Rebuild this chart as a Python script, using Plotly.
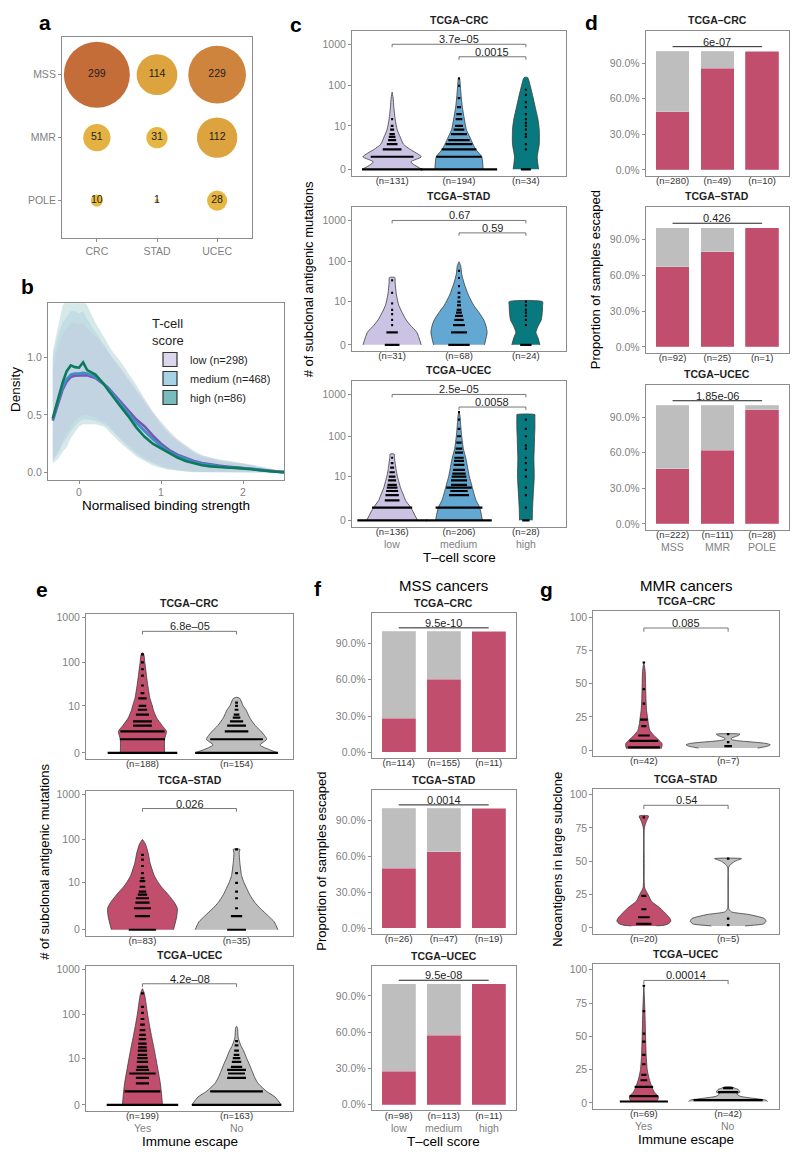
import math
import plotly.graph_objects as go

W, H = 800, 1159
FONT = "Liberation Sans, Arial, Helvetica, sans-serif"
GRAY_TXT = "#7f7f7f"
BOX_COL = "#8c8c8c"
INK = "#1e1e1e"

# ======================= DATA =======================
# ---- panel a : sample counts per cancer / subtype
a_cancers = ["CRC", "STAD", "UCEC"]
a_subtypes = ["POLE", "MMR", "MSS"]          # bottom -> top
a_mss = [299, 114, 229]
a_mmr = [51, 31, 112]
a_pole = [10, 1, 28]

# ---- panel b : density of normalised binding strength
b_x = [-0.32, -0.25, -0.2, -0.15, -0.1, -0.05, 0.0, 0.05, 0.1, 0.2, 0.3, 0.35, 0.4, 0.5, 0.6, 0.7,
       0.8, 0.9, 1.0, 1.1, 1.2, 1.3, 1.4, 1.5, 1.6, 1.7, 1.8, 1.9, 2.0, 2.1, 2.2, 2.3, 2.4, 2.5]
b_low = [0.45, 0.62, 0.72, 0.79, 0.83, 0.84, 0.84, 0.845, 0.845, 0.82, 0.77, 0.74, 0.70, 0.62, 0.54, 0.46,
         0.40, 0.32, 0.25, 0.195, 0.155, 0.125, 0.10, 0.083, 0.07, 0.06, 0.052, 0.046, 0.042, 0.036, 0.026, 0.016, 0.008, 0.003]
b_med = [0.46, 0.64, 0.74, 0.81, 0.85, 0.86, 0.86, 0.865, 0.86, 0.83, 0.77, 0.735, 0.69, 0.60, 0.51, 0.43,
         0.36, 0.29, 0.23, 0.18, 0.145, 0.115, 0.092, 0.075, 0.063, 0.054, 0.047, 0.043, 0.039, 0.032, 0.023, 0.014, 0.007, 0.003]
b_high = [0.47, 0.65, 0.78, 0.88, 0.93, 0.915, 0.91, 0.957, 0.89, 0.85, 0.77, 0.72, 0.67, 0.58, 0.49, 0.39,
          0.31, 0.25, 0.21, 0.17, 0.13, 0.10, 0.08, 0.063, 0.053, 0.046, 0.043, 0.04, 0.037, 0.029, 0.02, 0.012, 0.007, 0.003]
b_low_hi = [0.9, 1.1, 1.2, 1.25, 1.3, 1.3, 1.28, 1.3, 1.25, 1.18, 1.1, 1.05, 1.0, 0.92, 0.82, 0.72,
            0.62, 0.52, 0.43, 0.35, 0.28, 0.23, 0.18, 0.15, 0.13, 0.11, 0.1, 0.09, 0.08, 0.065, 0.05, 0.035, 0.02, 0.008]
b_low_lo = [0.12, 0.2, 0.28, 0.35, 0.4, 0.45, 0.48, 0.5, 0.5, 0.48, 0.44, 0.42, 0.38, 0.3, 0.24, 0.18,
            0.13, 0.09, 0.06, 0.04, 0.025, 0.015, 0.01, 0.005, 0.003, 0.002, 0, 0, 0, 0, 0, 0, 0, 0]
b_med_hi = [1.0, 1.2, 1.3, 1.35, 1.4, 1.4, 1.38, 1.4, 1.33, 1.22, 1.12, 1.06, 1.0, 0.9, 0.8, 0.7,
            0.6, 0.5, 0.41, 0.33, 0.27, 0.22, 0.17, 0.14, 0.12, 0.1, 0.09, 0.085, 0.075, 0.06, 0.045, 0.03, 0.017, 0.007]
b_med_lo = [0.1, 0.17, 0.25, 0.3, 0.36, 0.4, 0.44, 0.46, 0.46, 0.45, 0.42, 0.4, 0.36, 0.29, 0.22, 0.16,
            0.11, 0.08, 0.05, 0.03, 0.02, 0.01, 0.005, 0, 0, 0, 0, 0, 0, 0, 0, 0, 0, 0]
b_high_hi = [1.05, 1.3, 1.45, 1.5, 1.5, 1.5, 1.5, 1.5, 1.45, 1.3, 1.18, 1.12, 1.06, 0.97, 0.87, 0.76,
             0.64, 0.53, 0.44, 0.36, 0.29, 0.24, 0.19, 0.15, 0.13, 0.115, 0.105, 0.095, 0.085, 0.07, 0.055, 0.04, 0.025, 0.01]
b_high_lo = [0.08, 0.12, 0.18, 0.22, 0.3, 0.35, 0.4, 0.42, 0.42, 0.42, 0.4, 0.37, 0.33, 0.26, 0.2, 0.14,
             0.1, 0.06, 0.04, 0.025, 0.015, 0.008, 0.003, 0, 0, 0, 0, 0, 0, 0, 0, 0, 0, 0]
b_legend = ["low (n=298)", "medium (n=468)", "high (n=86)"]

# ---- panel c : subclonal antigenic mutations by T-cell score
c_cancers = ["CRC", "STAD", "UCEC"]
c_groups = ["low", "medium", "high"]
c_n = {"CRC": [131, 194, 34], "STAD": [31, 68, 24], "UCEC": [136, 206, 28]}
c_p = {"CRC": ["3.7e–05", "0.0015"], "STAD": ["0.67", "0.59"], "UCEC": ["2.5e–05", "0.0058"]}
# violin outlines: (levels, half-widths)
c_viol = {
    "CRC": [([0, 0.5, 1, 2, 3, 5, 8, 15, 30, 50, 70],
             [0.445, 0.28, 0.436, 0.27, 0.17, 0.12, 0.075, 0.045, 0.025, 0.015, 0.0]),
            ([0, 1, 2, 3, 5, 8, 15, 30, 50, 100, 150, 160],
             [0.36, 0.34, 0.25, 0.21, 0.16, 0.11, 0.08, 0.05, 0.035, 0.02, 0.01, 0.0]),
            ([0, 1, 3, 8, 15, 30, 50, 100, 150, 160],
             [0.19, 0.17, 0.2, 0.2, 0.18, 0.14, 0.11, 0.065, 0.035, 0.02])],
    "STAD": [([0, 1, 2, 3, 5, 8, 15, 30, 41],
              [0.435, 0.37, 0.27, 0.21, 0.15, 0.1, 0.065, 0.045, 0.04]),
             ([0, 1, 2, 3, 5, 8, 15, 30, 50, 80, 100],
              [0.38, 0.42, 0.4, 0.37, 0.3, 0.22, 0.14, 0.075, 0.04, 0.025, 0.0]),
             ([0, 0.5, 1, 2, 3, 5, 8, 10],
              [0.21, 0.18, 0.15, 0.19, 0.23, 0.245, 0.25, 0.25])],
    "UCEC": [([0, 1, 2, 3, 5, 8, 10, 15, 30, 37],
              [0.38, 0.28, 0.2, 0.17, 0.125, 0.095, 0.08, 0.06, 0.035, 0.03]),
             ([0, 1, 2, 3, 5, 8, 10, 15, 30, 50, 100, 150, 300, 400],
              [0.35, 0.31, 0.255, 0.23, 0.2, 0.17, 0.155, 0.135, 0.1, 0.065, 0.04, 0.03, 0.015, 0.0]),
             ([0, 1, 3, 10, 30, 50, 100, 150, 300, 330],
              [0.095, 0.1, 0.11, 0.125, 0.12, 0.125, 0.13, 0.135, 0.135, 0.135])],
}
# dot stacks: (values, half-widths)
c_dots = {
    "CRC": [([0, 1, 2, 3, 4, 5, 6, 8, 10, 15],
             [0.45, 0.32, 0.14, 0.08, 0.06, 0.05, 0.04, 0.03, 0.02, 0.015]),
            ([0, 1, 2, 3, 4, 6, 8, 10, 15, 20, 30, 50, 100, 150],
             [0.57, 0.34, 0.26, 0.2, 0.16, 0.12, 0.08, 0.06, 0.05, 0.04, 0.03, 0.02, 0.015, 0.015]),
            ([0, 2, 3, 5, 6, 8, 10, 12, 15, 20, 30, 40, 60, 80],
             [0.075, 0.015, 0.015, 0.015, 0.015, 0.015, 0.015, 0.015, 0.015, 0.015, 0.015, 0.015, 0.015, 0.015])],
    "STAD": [([0, 1, 2, 3, 4.5, 6, 9, 17, 35],
              [0.11, 0.085, 0.015, 0.015, 0.015, 0.015, 0.015, 0.015, 0.015]),
             ([0, 1, 2, 3, 4, 5, 6, 8, 10, 13, 17, 25, 40, 60],
              [0.16, 0.12, 0.09, 0.07, 0.06, 0.045, 0.035, 0.03, 0.025, 0.02, 0.02, 0.015, 0.015, 0.015]),
             ([0, 2, 3, 4, 5, 6, 8, 10],
              [0.085, 0.015, 0.015, 0.015, 0.015, 0.015, 0.015, 0.015])],
    "UCEC": [([0, 1, 2, 3, 4, 5, 6, 8, 10, 13, 17, 22, 30],
              [0.52, 0.3, 0.11, 0.1, 0.09, 0.08, 0.07, 0.06, 0.05, 0.04, 0.03, 0.02, 0.015]),
             ([0, 1, 3, 4, 5, 6, 8, 10, 12, 15, 20, 25, 30, 40, 50, 70, 100, 150, 250, 380],
              [0.49, 0.35, 0.15, 0.13, 0.19, 0.12, 0.12, 0.11, 0.1, 0.09, 0.08, 0.075, 0.07, 0.06, 0.05, 0.04, 0.03, 0.02, 0.015, 0.015]),
             ([0, 1, 3, 5, 10, 15, 22, 30, 50, 60, 100, 150, 250],
              [0.055, 0.015, 0.015, 0.015, 0.015, 0.015, 0.015, 0.015, 0.015, 0.015, 0.015, 0.015, 0.015])],
}

# ---- panel d : proportion escaped by subtype
d_subtypes = ["MSS", "MMR", "POLE"]
d_n = {"CRC": [280, 49, 10], "STAD": [92, 25, 1], "UCEC": [222, 111, 28]}
d_escaped = {"CRC": [0.489, 0.857, 1.0], "STAD": [0.674, 0.80, 1.0], "UCEC": [0.464, 0.622, 0.964]}
d_p = {"CRC": "6e-07", "STAD": "0.426", "UCEC": "1.85e-06"}

# ---- panel e : subclonal antigenic mutations by immune escape
e_groups = ["Yes", "No"]
e_n = {"CRC": [188, 154], "STAD": [83, 35], "UCEC": [199, 163]}
e_p = {"CRC": "6.8e–05", "STAD": "0.026", "UCEC": "4.2e–08"}
e_viol = {
    "CRC": [([0, 1, 2, 3, 5, 8, 10, 15, 30, 50, 100, 150, 165],
             [0.235, 0.235, 0.255, 0.21, 0.15, 0.115, 0.105, 0.08, 0.057, 0.043, 0.025, 0.014, 0.0]),
            ([0, 0.5, 1, 2, 3, 5, 8, 10, 15, 16],
             [0.44, 0.25, 0.32, 0.26, 0.2, 0.14, 0.1, 0.07, 0.035, 0.0])],
    "STAD": [([0, 1, 2, 3, 5, 8, 10, 15, 30, 50, 80, 100],
              [0.33, 0.365, 0.37, 0.34, 0.275, 0.2, 0.17, 0.125, 0.08, 0.06, 0.03, 0.0]),
             ([0, 0.5, 1, 2, 3, 5, 8, 10, 15, 30, 50, 60],
              [0.44, 0.4, 0.34, 0.25, 0.195, 0.14, 0.1, 0.08, 0.053, 0.035, 0.028, 0.035])],
    "UCEC": [([0, 1, 2, 3, 5, 8, 10, 15, 30, 50, 100, 150, 300, 380],
              [0.213, 0.2, 0.19, 0.18, 0.165, 0.15, 0.142, 0.128, 0.1, 0.08, 0.055, 0.043, 0.02, 0.0]),
             ([0, 0.5, 1, 2, 3, 5, 8, 10, 15, 20, 30, 50, 55],
              [0.475, 0.41, 0.32, 0.23, 0.195, 0.16, 0.125, 0.106, 0.075, 0.045, 0.018, 0.01, 0.0])],
}
e_dots = {
    "CRC": [([0, 1, 2, 3, 4, 6, 8, 10, 15, 20, 30, 50, 70, 100, 150],
             [0.37, 0.24, 0.235, 0.1, 0.1, 0.07, 0.05, 0.04, 0.045, 0.02, 0.015, 0.015, 0.015, 0.015, 0.015]),
            ([0, 1, 2, 3, 4, 5, 6, 8, 10, 12],
             [0.44, 0.28, 0.125, 0.1, 0.07, 0.04, 0.03, 0.02, 0.015, 0.015])],
    "STAD": [([0, 1, 2, 3, 4, 5, 6, 8, 11, 13, 17, 25, 35, 45],
              [0.145, 0.08, 0.09, 0.075, 0.07, 0.05, 0.04, 0.03, 0.03, 0.02, 0.015, 0.015, 0.015, 0.015]),
             ([0, 1, 2, 4, 6, 10, 17, 60],
              [0.1, 0.06, 0.015, 0.015, 0.015, 0.015, 0.015, 0.015])],
    "UCEC": [([0, 1, 2, 3, 4, 5, 6, 8, 10, 12, 15, 18, 22, 28, 35, 45, 60, 80, 110, 150, 300],
              [0.38, 0.19, 0.07, 0.07, 0.14, 0.07, 0.06, 0.06, 0.055, 0.05, 0.05, 0.045, 0.045, 0.04, 0.035, 0.03, 0.025, 0.02, 0.015, 0.015, 0.015]),
             ([0, 1, 3, 4, 5, 6, 8, 10, 12, 15, 20, 25],
              [0.475, 0.28, 0.1, 0.09, 0.1, 0.06, 0.05, 0.04, 0.03, 0.025, 0.02, 0.015])],
}

# ---- panel f : MSS cancers, proportion escaped by T-cell score
f_groups = ["low", "medium", "high"]
f_n = {"CRC": [114, 155, 11], "STAD": [26, 47, 19], "UCEC": [98, 113, 11]}
f_escaped = {"CRC": [0.281, 0.606, 1.0], "STAD": [0.50, 0.638, 1.0], "UCEC": [0.276, 0.575, 1.0]}
f_p = {"CRC": "9.5e-10", "STAD": "0.0014", "UCEC": "9.5e-08"}

# ---- panel g : MMR cancers, neoantigens in large subclone
g_n = {"CRC": [42, 7], "STAD": [20, 5], "UCEC": [69, 42]}
g_p = {"CRC": "0.085", "STAD": "0.54", "UCEC": "0.00014"}
g_viol = {
    "CRC": [([1, 3, 5, 8, 11, 15, 20, 25, 30, 40, 50, 60, 66],
             [0.205, 0.215, 0.215, 0.17, 0.12, 0.07, 0.053, 0.043, 0.032, 0.024, 0.02, 0.015, 0.0]),
            ([1.5, 3, 4, 5, 6, 7, 8, 9, 10, 11, 12],
             [0.35, 0.47, 0.5, 0.45, 0.3, 0.12, 0.04, 0.04, 0.08, 0.12, 0.14])],
    "STAD": [([1.5, 2, 3, 5, 7, 10, 15, 20, 25, 30, 35, 50, 75, 80, 84],
              [0.15, 0.24, 0.29, 0.32, 0.31, 0.27, 0.19, 0.09, 0.05, 0.01, 0.004, 0.004, 0.006, 0.03, 0.055]),
             ([1.5, 2, 3, 5, 7, 10, 12, 14, 15, 45, 47, 50, 52],
              [0.2, 0.3, 0.42, 0.45, 0.43, 0.25, 0.04, 0.01, 0.004, 0.004, 0.02, 0.08, 0.16])],
    "UCEC": [([1, 3, 5, 8, 12, 18, 25, 35, 50, 70, 88],
              [0.15, 0.17, 0.17, 0.125, 0.095, 0.063, 0.04, 0.028, 0.02, 0.012, 0.0]),
             ([1, 2, 3, 5, 7, 8, 10, 11, 12],
              [0.47, 0.45, 0.35, 0.14, 0.1, 0.14, 0.12, 0.08, 0.04])],
}
g_dots = {
    "CRC": [([2, 7, 11, 18, 23, 35, 46, 66], [0.19, 0.17, 0.07, 0.03, 0.045, 0.015, 0.015, 0.015]),
            ([3, 6, 12], [0.045, 0.015, 0.015])],
    "STAD": [([3, 8, 14, 24, 83], [0.09, 0.07, 0.03, 0.03, 0.015]),
             ([2, 7, 52], [0.015, 0.015, 0.015])],
    "UCEC": [([1, 5, 12, 17, 21, 29, 36, 46, 52, 69, 88],
              [0.285, 0.17, 0.11, 0.04, 0.03, 0.02, 0.02, 0.02, 0.015, 0.015, 0.015]),
             ([2, 8, 11], [0.41, 0.12, 0.06])],
}

# ======================= STYLE =======================
COL_LOW, COL_MED, COL_HIGH = "#CBC3E3", "#63A8D2", "#08797E"
COL_YES, COL_NO = "#C24E6E", "#BEBEBE"
TICK_FS, N_FS, P_FS, TITLE_FS, AX_FS = 10.5, 9.5, 11, 10.5, 13.5

fig = go.Figure()
layout = {}
counter = [0]


def T(v):
    return math.log10(v + 1)


def make_axes(xpx, ypx, xrange, yrange, xtv=None, xtt=None, ytv=None, ytt=None,
              xticks="", xfont=N_FS, xcol="#333333"):
    counter[0] += 1
    i = counter[0]
    sx = "" if i == 1 else str(i)
    common = dict(showline=True, mirror=True, linecolor=BOX_COL, linewidth=1,
                  showgrid=False, zeroline=False, fixedrange=True,
                  tickcolor=BOX_COL, ticklen=3, tickwidth=1)
    layout["xaxis" + sx] = dict(common, domain=[xpx[0] / W, xpx[1] / W], range=xrange,
                                anchor="y" + sx, ticks=xticks,
                                ticklabelstandoff=(0 if xticks else -4),
                                tickmode="array", tickvals=xtv or [], ticktext=xtt or [],
                                tickfont=dict(size=xfont, color=xcol))
    layout["yaxis" + sx] = dict(common, domain=[1 - ypx[1] / H, 1 - ypx[0] / H], range=yrange,
                                anchor="x" + sx, ticks="outside",
                                tickmode="array", tickvals=ytv or [], ticktext=ytt or [],
                                tickfont=dict(size=TICK_FS, color=GRAY_TXT))
    return "x" + sx, "y" + sx


def ann(x, y, text, size=10, color=INK, bold=False, angle=0, xanchor="center", yanchor="middle"):
    if bold:
        text = "<b>" + text + "</b>"
    fig.add_annotation(x=x / W, y=1 - y / H, xref="paper", yref="paper", text=text,
                       showarrow=False, font=dict(size=size, color=color), textangle=angle,
                       xanchor=xanchor, yanchor=yanchor)


def cat_labels(xr, names, ypx):
    for i, nm in enumerate(names):
        fig.add_annotation(x=i + 1, y=1 - ypx / H, xref=xr, yref="paper", text=nm, showarrow=False,
                           font=dict(size=10.5, color=GRAY_TXT), yanchor="middle")


def add_violin(xr, yr, center, levels, hw, color, tf):
    ys = [tf(v) for v in levels]
    xs = [center + w for w in hw] + [center - w for w in hw[::-1]]
    yy = ys + ys[::-1]
    fig.add_trace(go.Scatter(x=xs, y=yy, fill="toself", fillcolor=color, mode="lines",
                             line=dict(color="#3c3c3c", width=0.8, shape="spline", smoothing=0.6),
                             xaxis=xr, yaxis=yr, hoverinfo="skip", showlegend=False))


def add_dots(xr, yr, center, vals, hw, tf):
    xs, ys = [], []
    for v, w in zip(vals, hw):
        y = tf(v)
        xs += [center - w, center + w, None]
        ys += [y, y, None]
    fig.add_trace(go.Scatter(x=xs, y=ys, mode="lines", line=dict(color="black", width=2.2),
                             xaxis=xr, yaxis=yr, hoverinfo="skip", showlegend=False))


def add_bracket(xr, yr, x1, x2, ytop, drop, label):
    fig.add_trace(go.Scatter(x=[x1, x1, x2, x2], y=[ytop - drop, ytop, ytop, ytop - drop], mode="lines",
                             line=dict(color="#555555", width=0.8), xaxis=xr, yaxis=yr,
                             hoverinfo="skip", showlegend=False))
    fig.add_annotation(x=(x1 + x2) / 2, y=ytop, xref=xr, yref=yr, text=label, showarrow=False,
                       yanchor="bottom", font=dict(size=P_FS, color=INK), yshift=-3)


def add_bars(xr, yr, esc, p, yline):
    fig.add_trace(go.Bar(x=[1, 2, 3], y=esc, width=0.75,
                         marker=dict(color=COL_YES, line=dict(color="rgba(255,255,255,0.35)", width=0.6)),
                         xaxis=xr, yaxis=yr, hoverinfo="skip", showlegend=False))
    fig.add_trace(go.Bar(x=[1, 2, 3], y=[1 - v for v in esc], width=0.75,
                         marker=dict(color=COL_NO, line=dict(color="rgba(255,255,255,0.35)", width=0.6)),
                         xaxis=xr, yaxis=yr, hoverinfo="skip", showlegend=False))
    fig.add_trace(go.Scatter(x=[1, 3], y=[yline, yline], mode="lines", line=dict(color="#222", width=1),
                             xaxis=xr, yaxis=yr, hoverinfo="skip", showlegend=False))
    fig.add_annotation(x=2, y=yline, xref=xr, yref=yr, text=p, showarrow=False,
                       yanchor="bottom", font=dict(size=P_FS, color=INK), yshift=-3)


PCT_TV = [0, 0.3, 0.6, 0.9]
PCT_TT = ["0.0%", "30.0%", "60.0%", "90.0%"]
CAT_OFF = 17.5     # category label below plot bottom (px)
XT_OFF = 31        # x-axis title below plot bottom (px)

# ======================= PANEL a =======================
xa, ya = make_axes([62, 252], [34, 236], [-0.58, 2.58], [-0.6, 2.6],
                   xtv=[0, 1, 2], xtt=a_cancers, ytv=[0, 1, 2], ytt=a_subtypes,
                   xticks="outside", xfont=TICK_FS, xcol=GRAY_TXT)
for yi, row in enumerate([a_pole, a_mmr, a_mss]):
    fig.add_trace(go.Scatter(
        x=[0, 1, 2], y=[yi] * 3, mode="markers+text", text=[str(v) for v in row],
        textfont=dict(size=10.5, color=INK), textposition="middle center",
        marker=dict(size=row, sizemode="area", sizeref=2 * 299 / 66 ** 2, color=row, opacity=1,
                    cmin=1, cmax=299, line=dict(width=0),
                    colorscale=[[0, "#E9BD44"], [0.35, "#DEA53F"], [0.75, "#CF863C"], [1, "#C46D39"]]),
        xaxis=xa, yaxis=ya, hoverinfo="skip", showlegend=False))

# ======================= PANEL b =======================
xb, yb = make_axes([48, 284], [301, 478], [-0.378, 2.5], [-0.063, 1.47],
                   xtv=[0, 1, 2], xtt=["0", "1", "2"], ytv=[0, 0.5, 1.0], ytt=["0.0", "0.5", "1.0"],
                   xticks="outside", xfont=TICK_FS, xcol=GRAY_TXT)
rib = [(b_high_hi, b_high_lo, "rgba(120,180,178,0.30)"),
       (b_med_hi, b_med_lo, "rgba(150,195,215,0.30)"),
       (b_low_hi, b_low_lo, "rgba(195,188,222,0.30)")]
for hi, lo, col in rib:
    fig.add_trace(go.Scatter(x=b_x + b_x[::-1], y=hi + lo[::-1], fill="toself", fillcolor=col,
                             mode="lines", line=dict(width=0), xaxis=xb, yaxis=yb,
                             hoverinfo="skip", showlegend=False))
for ys, col in [(b_low, "#7A55AE"), (b_med, "#3E8CC8"), (b_high, "#0E7A5C")]:
    fig.add_trace(go.Scatter(x=b_x, y=ys, mode="lines", line=dict(color=col, width=2.6),
                             xaxis=xb, yaxis=yb, hoverinfo="skip", showlegend=False))
for name, col in zip(b_legend, ["#DCD7EC", "#A8D3E6", "#79BCBD"]):
    fig.add_trace(go.Scatter(x=[None], y=[None], mode="markers", name=name,
                             marker=dict(symbol="square", size=14, color=col,
                                         line=dict(color="#333333", width=1.2)),
                             xaxis=xb, yaxis=yb))

# ======================= PANEL c =======================
c_ypx = [[28, 173], [204.7, 349], [379, 525]]
log_tv = [T(0), T(10), T(100), T(1000)]
log_tt = ["0", "10", "100", "1000"]
for k, cc in enumerate(c_cancers):
    tt = ["(n=%d)" % n for n in c_n[cc]]
    xr, yr = make_axes([352, 566], c_ypx[k], [0.4, 3.6], [-0.15, 3.32],
                       xtv=[1, 2, 3], xtt=tt, ytv=log_tv, ytt=log_tt)
    for gi, col in enumerate([COL_LOW, COL_MED, COL_HIGH]):
        lev, hw = c_viol[cc][gi]
        add_violin(xr, yr, gi + 1, lev, hw, col, T)
        dv, dw = c_dots[cc][gi]
        add_dots(xr, yr, gi + 1, dv, dw, T)
    add_bracket(xr, yr, 1, 3, 3.0, 0.07, c_p[cc][0])
    add_bracket(xr, yr, 2, 3, 2.7, 0.07, c_p[cc][1])
    ann(459, c_ypx[k][0] - 11, "TCGA–" + cc, size=TITLE_FS, bold=True)
    if k == 2:
        cat_labels(xr, c_groups, c_ypx[k][1] + CAT_OFF)
        ann(459, c_ypx[k][1] + XT_OFF, "T–cell score", size=AX_FS, color="black")

# ======================= PANEL d =======================
d_ypx = [[27.7, 173.3], [204.7, 350.7], [382.7, 528.3]]
for k, cc in enumerate(c_cancers):
    tt = ["(n=%d)" % n for n in d_n[cc]]
    xr, yr = make_axes([645.7, 789], d_ypx[k], [0.4, 3.6], [-0.05, 1.173],
                       xtv=[1, 2, 3], xtt=tt, ytv=PCT_TV, ytt=PCT_TT)
    add_bars(xr, yr, d_escaped[cc], d_p[cc], 1.038)
    ann(717.3, d_ypx[k][0] - 11, "TCGA–" + cc, size=TITLE_FS, bold=True)
    if k == 2:
        cat_labels(xr, d_subtypes, d_ypx[k][1] + CAT_OFF)

# ======================= PANEL e =======================
e_ypx = [[612.3, 757.7], [790, 935], [965.7, 1110.7]]
for k, cc in enumerate(c_cancers):
    tt = ["(n=%d)" % n for n in e_n[cc]]
    xr, yr = make_axes([86, 293], e_ypx[k], [0.4, 2.6], [-0.13, 3.08],
                       xtv=[1, 2], xtt=tt, ytv=log_tv, ytt=log_tt)
    for gi, col in enumerate([COL_YES, COL_NO]):
        lev, hw = e_viol[cc][gi]
        add_violin(xr, yr, gi + 1, lev, hw, col, T)
        dv, dw = e_dots[cc][gi]
        add_dots(xr, yr, gi + 1, dv, dw, T)
    add_bracket(xr, yr, 1, 2, 2.69, 0.07, e_p[cc])
    ann(189.5, e_ypx[k][0] - 11, "TCGA–" + cc, size=TITLE_FS, bold=True)
    if k == 2:
        cat_labels(xr, e_groups, e_ypx[k][1] + CAT_OFF)
        ann(189.5, e_ypx[k][1] + XT_OFF, "Immune escape", size=AX_FS, color="black")

# ======================= PANEL f =======================
f_ypx = [[611.7, 756.7], [789.3, 933.3], [965, 1110]]
for k, cc in enumerate(c_cancers):
    tt = ["(n=%d)" % n for n in f_n[cc]]
    xr, yr = make_axes([371.7, 515.7], f_ypx[k], [0.4, 3.6], [-0.045, 1.152],
                       xtv=[1, 2, 3], xtt=tt, ytv=PCT_TV, ytt=PCT_TT)
    add_bars(xr, yr, f_escaped[cc], f_p[cc], 1.03)
    ann(443.7, f_ypx[k][0] - 10, "TCGA–" + cc, size=TITLE_FS, bold=True)
    if k == 2:
        cat_labels(xr, f_groups, f_ypx[k][1] + CAT_OFF)
        ann(443.7, f_ypx[k][1] + XT_OFF, "T–cell score", size=AX_FS, color="black")

# ======================= PANEL g =======================
g_ypx = [[610, 755], [787.7, 933.3], [963.3, 1108.7]]
lin = lambda v: v
for k, cc in enumerate(c_cancers):
    tt = ["(n=%d)" % n for n in g_n[cc]]
    xr, yr = make_axes([593.3, 778.7], g_ypx[k], [0.4, 2.6], [-4.5, 104.5],
                       xtv=[1, 2], xtt=tt, ytv=[0, 25, 50, 75, 100],
                       ytt=["0", "25", "50", "75", "100"])
    for gi, col in enumerate([COL_YES, COL_NO]):
        lev, hw = g_viol[cc][gi]
        add_violin(xr, yr, gi + 1, lev, hw, col, lin)
        dv, dw = g_dots[cc][gi]
        add_dots(xr, yr, gi + 1, dv, dw, lin)
    add_bracket(xr, yr, 1, 2, 92, 2.8, g_p[cc])
    ann(686, g_ypx[k][0] - 10, "TCGA–" + cc, size=TITLE_FS, bold=True)
    if k == 2:
        cat_labels(xr, e_groups, g_ypx[k][1] + CAT_OFF)
        ann(686, g_ypx[k][1] + XT_OFF, "Immune escape", size=AX_FS, color="black")

# ======================= TEXT =======================
for letter, x, y in [("a", 45, 20), ("b", 27, 284), ("c", 296, 22), ("d", 591, 20),
                     ("e", 42, 588), ("f", 318, 587), ("g", 546, 588)]:
    ann(x, y, letter, size=21, color="black", bold=True)

ann(16, 388, "Density", size=AX_FS, color="black", angle=-90)
ann(166, 504, "Normalised binding strength", size=AX_FS, color="black")
ann(308, 277, "# of subclonal antigenic mutations", size=13, color="black", angle=-90)
ann(595, 278, "Proportion of samples escaped", size=13, color="black", angle=-90)
ann(45, 861, "# of subclonal antigenic mutations", size=13, color="black", angle=-90)
ann(322, 861, "Proportion of samples escaped", size=13, color="black", angle=-90)
ann(558, 859, "Neoantigens in large subclone", size=13, color="black", angle=-90)
ann(443.7, 584.5, "MSS cancers", size=15, color="black")
ann(686, 584.5, "MMR cancers", size=15, color="black")

layout.update(dict(
    width=W, height=H, margin=dict(l=0, r=0, t=0, b=0),
    paper_bgcolor="white", plot_bgcolor="white",
    font=dict(family=FONT, color=INK),
    barmode="stack", showlegend=True,
    legend=dict(x=150 / W, y=1 - 309 / H, xanchor="left", yanchor="top", traceorder="normal",
                bgcolor="rgba(0,0,0,0)", font=dict(size=11, color=INK),
                title=dict(text="T-cell<br>score", font=dict(size=13, color=INK)),
                itemsizing="trace", tracegroupgap=0),
))
fig.update_layout(**layout)
fig.write_html("out.html", config={"displayModeBar": False, "staticPlot": True},
               post_script="document.body.style.margin='0px';")
